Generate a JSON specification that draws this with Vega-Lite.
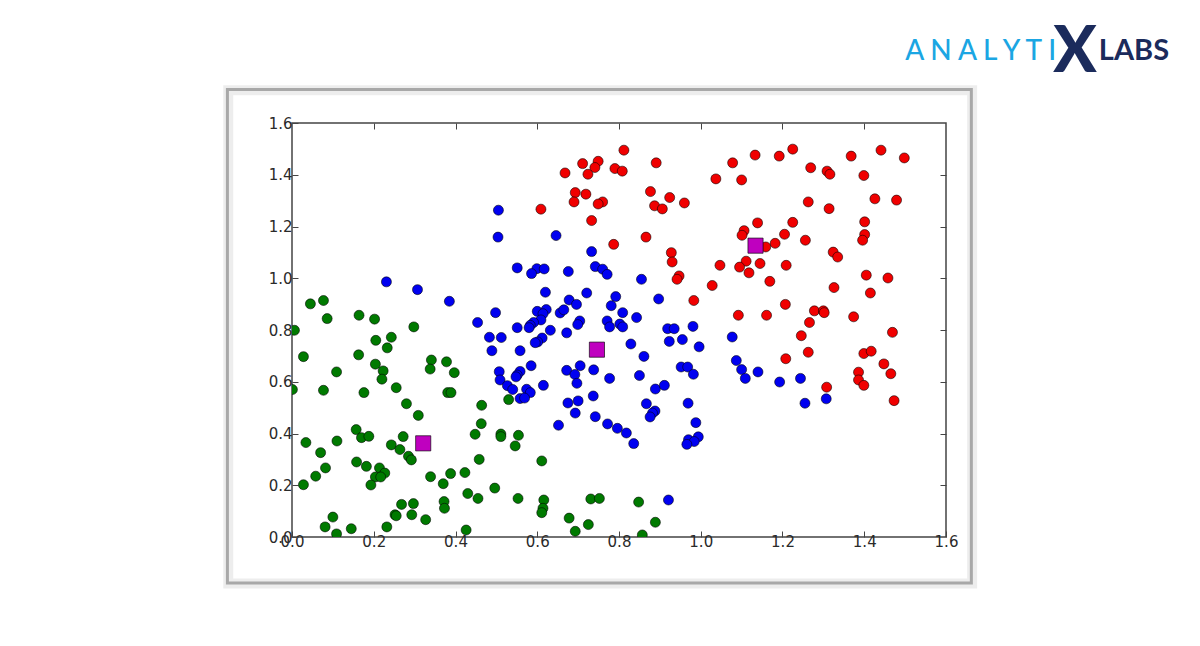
{
  "$schema": "https://vega.github.io/schema/vega-lite/v6.json",
  "width": 654,
  "height": 414,
  "autosize": {"type": "none"},
  "padding": {"left": 292, "top": 123, "right": 254, "bottom": 109},
  "background": "white",
  "config": {
    "view": {"stroke": "#444", "strokeWidth": 1.5},
    "axis": {"labelFont": "DejaVu Sans", "labelFontSize": 15, "labelColor": "#2a2a2a", "tickColor": "#444", "domain": false, "grid": false, "title": null, "zindex": 1, "labelFlush": false}
  },
  "datasets": {
    "one": [{}],
    "pts": [
      {"x":0.812,"y":1.495,"c":"r"},{"x":1.225,"y":1.499,"c":"r"},{"x":1.441,"y":1.495,"c":"r"},{"x":1.133,"y":1.476,"c":"r"},{"x":1.192,"y":1.472,"c":"r"},{"x":1.368,"y":1.472,"c":"r"},{"x":1.498,"y":1.465,"c":"r"},{"x":0.711,"y":1.443,"c":"r"},{"x":0.749,"y":1.452,"c":"r"},{"x":0.741,"y":1.428,"c":"r"},{"x":0.724,"y":1.402,"c":"r"},{"x":0.668,"y":1.407,"c":"r"},{"x":0.79,"y":1.424,"c":"r"},{"x":0.808,"y":1.414,"c":"r"},{"x":0.891,"y":1.446,"c":"r"},{"x":1.078,"y":1.446,"c":"r"},{"x":1.269,"y":1.427,"c":"r"},{"x":1.309,"y":1.414,"c":"r"},{"x":1.316,"y":1.402,"c":"r"},{"x":1.399,"y":1.397,"c":"r"},{"x":1.037,"y":1.384,"c":"r"},{"x":1.1,"y":1.38,"c":"r"},{"x":1.426,"y":1.307,"c":"r"},{"x":1.479,"y":1.302,"c":"r"},{"x":0.877,"y":1.335,"c":"r"},{"x":0.693,"y":1.331,"c":"r"},{"x":0.719,"y":1.325,"c":"r"},{"x":0.69,"y":1.295,"c":"r"},{"x":0.76,"y":1.295,"c":"r"},{"x":0.749,"y":1.287,"c":"r"},{"x":0.924,"y":1.312,"c":"r"},{"x":0.96,"y":1.291,"c":"r"},{"x":0.887,"y":1.28,"c":"r"},{"x":0.906,"y":1.268,"c":"r"},{"x":1.263,"y":1.295,"c":"r"},{"x":1.314,"y":1.269,"c":"r"},{"x":0.609,"y":1.267,"c":"r"},{"x":0.733,"y":1.223,"c":"r"},{"x":1.139,"y":1.214,"c":"r"},{"x":1.225,"y":1.216,"c":"r"},{"x":1.401,"y":1.218,"c":"r"},{"x":1.106,"y":1.184,"c":"r"},{"x":1.101,"y":1.166,"c":"r"},{"x":1.205,"y":1.17,"c":"r"},{"x":1.401,"y":1.169,"c":"r"},{"x":1.396,"y":1.147,"c":"r"},{"x":1.256,"y":1.147,"c":"r"},{"x":0.866,"y":1.159,"c":"r"},{"x":0.787,"y":1.131,"c":"r"},{"x":1.182,"y":1.135,"c":"r"},{"x":1.159,"y":1.121,"c":"r"},{"x":0.928,"y":1.099,"c":"r"},{"x":1.324,"y":1.101,"c":"r"},{"x":1.335,"y":1.082,"c":"r"},{"x":0.93,"y":1.063,"c":"r"},{"x":1.111,"y":1.066,"c":"r"},{"x":1.047,"y":1.05,"c":"r"},{"x":1.095,"y":1.043,"c":"r"},{"x":1.145,"y":1.057,"c":"r"},{"x":1.209,"y":1.05,"c":"r"},{"x":1.118,"y":1.021,"c":"r"},{"x":0.947,"y":1.009,"c":"r"},{"x":0.942,"y":0.996,"c":"r"},{"x":1.405,"y":1.012,"c":"r"},{"x":1.458,"y":1.001,"c":"r"},{"x":1.169,"y":0.988,"c":"r"},{"x":1.028,"y":0.972,"c":"r"},{"x":1.326,"y":0.964,"c":"r"},{"x":1.415,"y":0.943,"c":"r"},{"x":0.983,"y":0.914,"c":"r"},{"x":1.207,"y":0.899,"c":"r"},{"x":1.278,"y":0.874,"c":"r"},{"x":1.3,"y":0.874,"c":"r"},{"x":1.302,"y":0.867,"c":"r"},{"x":1.092,"y":0.857,"c":"r"},{"x":1.161,"y":0.857,"c":"r"},{"x":1.374,"y":0.851,"c":"r"},{"x":1.266,"y":0.829,"c":"r"},{"x":1.469,"y":0.791,"c":"r"},{"x":1.246,"y":0.778,"c":"r"},{"x":1.208,"y":0.689,"c":"r"},{"x":1.263,"y":0.714,"c":"r"},{"x":1.399,"y":0.709,"c":"r"},{"x":1.417,"y":0.718,"c":"r"},{"x":1.448,"y":0.669,"c":"r"},{"x":1.386,"y":0.637,"c":"r"},{"x":1.465,"y":0.631,"c":"r"},{"x":1.386,"y":0.607,"c":"r"},{"x":1.399,"y":0.586,"c":"r"},{"x":1.308,"y":0.579,"c":"r"},{"x":1.473,"y":0.527,"c":"r"},
      {"x":0.505,"y":1.263,"c":"b"},{"x":0.504,"y":1.159,"c":"b"},{"x":0.646,"y":1.165,"c":"b"},{"x":0.733,"y":1.103,"c":"b"},{"x":0.551,"y":1.04,"c":"b"},{"x":0.599,"y":1.037,"c":"b"},{"x":0.617,"y":1.036,"c":"b"},{"x":0.586,"y":1.018,"c":"b"},{"x":0.676,"y":1.026,"c":"b"},{"x":0.742,"y":1.045,"c":"b"},{"x":0.76,"y":1.035,"c":"b"},{"x":0.771,"y":1.015,"c":"b"},{"x":0.855,"y":0.996,"c":"b"},{"x":0.231,"y":0.986,"c":"b"},{"x":0.307,"y":0.956,"c":"b"},{"x":0.385,"y":0.911,"c":"b"},{"x":0.62,"y":0.946,"c":"b"},{"x":0.721,"y":0.943,"c":"b"},{"x":0.678,"y":0.916,"c":"b"},{"x":0.696,"y":0.899,"c":"b"},{"x":0.792,"y":0.929,"c":"b"},{"x":0.897,"y":0.92,"c":"b"},{"x":0.781,"y":0.894,"c":"b"},{"x":0.809,"y":0.867,"c":"b"},{"x":0.6,"y":0.872,"c":"b"},{"x":0.622,"y":0.879,"c":"b"},{"x":0.614,"y":0.863,"c":"b"},{"x":0.656,"y":0.866,"c":"b"},{"x":0.665,"y":0.878,"c":"b"},{"x":0.498,"y":0.867,"c":"b"},{"x":0.454,"y":0.829,"c":"b"},{"x":0.609,"y":0.839,"c":"b"},{"x":0.591,"y":0.829,"c":"b"},{"x":0.583,"y":0.818,"c":"b"},{"x":0.58,"y":0.809,"c":"b"},{"x":0.704,"y":0.835,"c":"b"},{"x":0.699,"y":0.821,"c":"b"},{"x":0.632,"y":0.799,"c":"b"},{"x":0.672,"y":0.789,"c":"b"},{"x":0.551,"y":0.809,"c":"b"},{"x":0.483,"y":0.772,"c":"b"},{"x":0.512,"y":0.771,"c":"b"},{"x":0.771,"y":0.835,"c":"b"},{"x":0.777,"y":0.812,"c":"b"},{"x":0.802,"y":0.823,"c":"b"},{"x":0.809,"y":0.812,"c":"b"},{"x":0.843,"y":0.848,"c":"b"},{"x":0.919,"y":0.805,"c":"b"},{"x":0.935,"y":0.805,"c":"b"},{"x":0.981,"y":0.814,"c":"b"},{"x":0.996,"y":0.735,"c":"b"},{"x":0.955,"y":0.763,"c":"b"},{"x":0.923,"y":0.756,"c":"b"},{"x":0.829,"y":0.746,"c":"b"},{"x":1.077,"y":0.773,"c":"b"},{"x":0.489,"y":0.72,"c":"b"},{"x":0.558,"y":0.72,"c":"b"},{"x":0.612,"y":0.769,"c":"b"},{"x":0.601,"y":0.754,"c":"b"},{"x":0.595,"y":0.751,"c":"b"},{"x":0.861,"y":0.698,"c":"b"},{"x":1.087,"y":0.682,"c":"b"},{"x":1.1,"y":0.647,"c":"b"},{"x":1.109,"y":0.613,"c":"b"},{"x":1.14,"y":0.638,"c":"b"},{"x":1.193,"y":0.599,"c":"b"},{"x":1.244,"y":0.613,"c":"b"},{"x":1.255,"y":0.517,"c":"b"},{"x":1.307,"y":0.534,"c":"b"},{"x":0.952,"y":0.657,"c":"b"},{"x":0.968,"y":0.657,"c":"b"},{"x":0.982,"y":0.629,"c":"b"},{"x":0.585,"y":0.662,"c":"b"},{"x":0.672,"y":0.644,"c":"b"},{"x":0.705,"y":0.662,"c":"b"},{"x":0.692,"y":0.628,"c":"b"},{"x":0.697,"y":0.594,"c":"b"},{"x":0.738,"y":0.646,"c":"b"},{"x":0.777,"y":0.613,"c":"b"},{"x":0.85,"y":0.624,"c":"b"},{"x":0.507,"y":0.639,"c":"b"},{"x":0.509,"y":0.607,"c":"b"},{"x":0.558,"y":0.64,"c":"b"},{"x":0.551,"y":0.626,"c":"b"},{"x":0.548,"y":0.619,"c":"b"},{"x":0.527,"y":0.585,"c":"b"},{"x":0.54,"y":0.57,"c":"b"},{"x":0.574,"y":0.571,"c":"b"},{"x":0.583,"y":0.558,"c":"b"},{"x":0.615,"y":0.586,"c":"b"},{"x":0.558,"y":0.535,"c":"b"},{"x":0.569,"y":0.537,"c":"b"},{"x":0.889,"y":0.572,"c":"b"},{"x":0.911,"y":0.586,"c":"b"},{"x":0.675,"y":0.518,"c":"b"},{"x":0.7,"y":0.526,"c":"b"},{"x":0.737,"y":0.545,"c":"b"},{"x":0.867,"y":0.515,"c":"b"},{"x":0.969,"y":0.517,"c":"b"},{"x":0.693,"y":0.479,"c":"b"},{"x":0.742,"y":0.465,"c":"b"},{"x":0.888,"y":0.487,"c":"b"},{"x":0.882,"y":0.479,"c":"b"},{"x":0.876,"y":0.464,"c":"b"},{"x":0.988,"y":0.442,"c":"b"},{"x":0.652,"y":0.432,"c":"b"},{"x":0.772,"y":0.437,"c":"b"},{"x":0.796,"y":0.42,"c":"b"},{"x":0.818,"y":0.402,"c":"b"},{"x":0.836,"y":0.361,"c":"b"},{"x":0.97,"y":0.376,"c":"b"},{"x":0.994,"y":0.387,"c":"b"},{"x":0.984,"y":0.369,"c":"b"},{"x":0.966,"y":0.358,"c":"b"},{"x":0.921,"y":0.143,"c":"b"},
      {"x":0.006,"y":0.799,"c":"g"},{"x":0.045,"y":0.901,"c":"g"},{"x":0.077,"y":0.914,"c":"g"},{"x":0.086,"y":0.844,"c":"g"},{"x":0.164,"y":0.857,"c":"g"},{"x":0.202,"y":0.842,"c":"g"},{"x":0.028,"y":0.697,"c":"g"},{"x":0.001,"y":0.57,"c":"g"},{"x":0.077,"y":0.567,"c":"g"},{"x":0.109,"y":0.638,"c":"g"},{"x":0.163,"y":0.704,"c":"g"},{"x":0.205,"y":0.76,"c":"g"},{"x":0.243,"y":0.772,"c":"g"},{"x":0.233,"y":0.731,"c":"g"},{"x":0.298,"y":0.812,"c":"g"},{"x":0.204,"y":0.668,"c":"g"},{"x":0.223,"y":0.642,"c":"g"},{"x":0.22,"y":0.61,"c":"g"},{"x":0.255,"y":0.577,"c":"g"},{"x":0.176,"y":0.558,"c":"g"},{"x":0.28,"y":0.515,"c":"g"},{"x":0.309,"y":0.47,"c":"g"},{"x":0.341,"y":0.684,"c":"g"},{"x":0.378,"y":0.677,"c":"g"},{"x":0.338,"y":0.649,"c":"g"},{"x":0.397,"y":0.635,"c":"g"},{"x":0.381,"y":0.558,"c":"g"},{"x":0.389,"y":0.558,"c":"g"},{"x":0.464,"y":0.509,"c":"g"},{"x":0.463,"y":0.438,"c":"g"},{"x":0.53,"y":0.531,"c":"g"},{"x":0.157,"y":0.415,"c":"g"},{"x":0.17,"y":0.384,"c":"g"},{"x":0.188,"y":0.389,"c":"g"},{"x":0.272,"y":0.388,"c":"g"},{"x":0.034,"y":0.365,"c":"g"},{"x":0.11,"y":0.371,"c":"g"},{"x":0.07,"y":0.326,"c":"g"},{"x":0.243,"y":0.356,"c":"g"},{"x":0.264,"y":0.338,"c":"g"},{"x":0.285,"y":0.312,"c":"g"},{"x":0.292,"y":0.298,"c":"g"},{"x":0.082,"y":0.267,"c":"g"},{"x":0.058,"y":0.235,"c":"g"},{"x":0.028,"y":0.202,"c":"g"},{"x":0.158,"y":0.29,"c":"g"},{"x":0.182,"y":0.273,"c":"g"},{"x":0.214,"y":0.267,"c":"g"},{"x":0.227,"y":0.247,"c":"g"},{"x":0.204,"y":0.232,"c":"g"},{"x":0.217,"y":0.232,"c":"g"},{"x":0.193,"y":0.201,"c":"g"},{"x":0.339,"y":0.233,"c":"g"},{"x":0.388,"y":0.245,"c":"g"},{"x":0.37,"y":0.206,"c":"g"},{"x":0.423,"y":0.249,"c":"g"},{"x":0.448,"y":0.397,"c":"g"},{"x":0.511,"y":0.398,"c":"g"},{"x":0.511,"y":0.388,"c":"g"},{"x":0.554,"y":0.393,"c":"g"},{"x":0.546,"y":0.352,"c":"g"},{"x":0.458,"y":0.3,"c":"g"},{"x":0.611,"y":0.294,"c":"g"},{"x":0.496,"y":0.189,"c":"g"},{"x":0.43,"y":0.168,"c":"g"},{"x":0.455,"y":0.149,"c":"g"},{"x":0.553,"y":0.149,"c":"g"},{"x":0.616,"y":0.143,"c":"g"},{"x":0.614,"y":0.111,"c":"g"},{"x":0.611,"y":0.094,"c":"g"},{"x":0.731,"y":0.147,"c":"g"},{"x":0.752,"y":0.149,"c":"g"},{"x":0.848,"y":0.135,"c":"g"},{"x":0.372,"y":0.137,"c":"g"},{"x":0.373,"y":0.111,"c":"g"},{"x":0.268,"y":0.126,"c":"g"},{"x":0.297,"y":0.129,"c":"g"},{"x":0.252,"y":0.086,"c":"g"},{"x":0.255,"y":0.082,"c":"g"},{"x":0.293,"y":0.086,"c":"g"},{"x":0.327,"y":0.067,"c":"g"},{"x":0.1,"y":0.077,"c":"g"},{"x":0.081,"y":0.039,"c":"g"},{"x":0.109,"y":0.012,"c":"g"},{"x":0.145,"y":0.032,"c":"g"},{"x":0.232,"y":0.039,"c":"g"},{"x":0.426,"y":0.027,"c":"g"},{"x":0.678,"y":0.073,"c":"g"},{"x":0.725,"y":0.048,"c":"g"},{"x":0.693,"y":0.022,"c":"g"},{"x":0.889,"y":0.057,"c":"g"},{"x":0.857,"y":0.008,"c":"g"}
    ],
    "cent": [
      {"x":0.321,"y":0.362},{"x":0.746,"y":0.724},{"x":1.134,"y":1.126}
    ]
  },
  "layer": [
    {
      "data": {"name": "one"},
      "mark": {"type": "rect", "fill": null, "stroke": "#000", "strokeWidth": 10, "strokeOpacity": 0.07, "clip": false},
      "encoding": {
        "x": {"datum": -0.156, "type": "quantitative", "scale": {"domain": [0, 1.6], "nice": false, "zero": false}, "axis": null},
        "x2": {"datum": 1.664},
        "y": {"datum": 1.727, "type": "quantitative", "scale": {"domain": [0, 1.6], "nice": false, "zero": false}, "axis": null},
        "y2": {"datum": -0.18}
      }
    },
    {
      "data": {"name": "one"},
      "mark": {"type": "rect", "fill": null, "stroke": "#a8a8a8", "strokeWidth": 3, "clip": false},
      "encoding": {
        "x": {"datum": -0.158, "type": "quantitative", "axis": null},
        "x2": {"datum": 1.662},
        "y": {"datum": 1.729, "type": "quantitative", "axis": null},
        "y2": {"datum": -0.178}
      }
    },
    {
      "data": {"name": "pts"},
      "mark": {"type": "point", "shape": "circle", "filled": true, "size": 100, "stroke": "#000", "strokeWidth": 0.8, "strokeOpacity": 0.7, "opacity": 1, "clip": true},
      "encoding": {
        "x": {"field": "x", "type": "quantitative", "axis": {"orient": "bottom", "values": [0, 0.2, 0.4, 0.6, 0.8, 1.0, 1.2, 1.4, 1.6], "format": ".1f", "tickSize": -6, "labelPadding": 3}},
        "y": {"field": "y", "type": "quantitative", "axis": {"orient": "left", "values": [0, 0.2, 0.4, 0.6, 0.8, 1.0, 1.2, 1.4, 1.6], "format": ".1f", "tickSize": -6, "labelPadding": 6}},
        "color": {"field": "c", "type": "nominal", "scale": {"domain": ["g", "b", "r"], "range": ["#007a00", "#0000f0", "#f00000"]}, "legend": null}
      }
    },
    {
      "data": {"name": "cent"},
      "mark": {"type": "point", "shape": "square", "filled": true, "size": 230, "fill": "#bf00bf", "stroke": "#000", "strokeWidth": 0.8, "strokeOpacity": 0.8, "opacity": 1},
      "encoding": {
        "x": {"field": "x", "type": "quantitative", "axis": {"orient": "top", "values": [0.2, 0.4, 0.6, 0.8, 1.0, 1.2, 1.4], "labels": false, "tickSize": -6}},
        "y": {"field": "y", "type": "quantitative", "axis": {"orient": "right", "values": [0.2, 0.4, 0.6, 0.8, 1.0, 1.2, 1.4], "labels": false, "tickSize": -6}}
      }
    },
    {
      "data": {"name": "one"},
      "mark": {"type": "text", "align": "left", "baseline": "alphabetic", "font": "Lato", "fontSize": 28, "fontWeight": 500, "fill": "#1ba6e3", "text": "A N A L Y T I", "clip": false},
      "encoding": {
        "x": {"datum": 1.5, "type": "quantitative", "axis": null},
        "y": {"datum": 1.8435, "type": "quantitative", "axis": null}
      }
    },
    {
      "data": {"name": "one"},
      "mark": {"type": "text", "align": "center", "baseline": "alphabetic", "font": "Lato", "fontSize": 64, "fontWeight": 900, "fill": "#1b2b5c", "text": "X", "clip": false},
      "encoding": {
        "x": {"datum": 1.9155, "type": "quantitative", "axis": null},
        "y": {"datum": 1.797, "type": "quantitative", "axis": null}
      }
    },
    {
      "data": {"name": "one"},
      "mark": {"type": "text", "align": "left", "baseline": "alphabetic", "font": "Lato", "fontSize": 29, "fontWeight": 700, "fill": "#1b2b5c", "text": "LABS", "clip": false},
      "encoding": {
        "x": {"datum": 1.974, "type": "quantitative", "axis": null},
        "y": {"datum": 1.8435, "type": "quantitative", "axis": null}
      }
    }
  ],
  "resolve": {"scale": {"x": "shared", "y": "shared"}}
}
